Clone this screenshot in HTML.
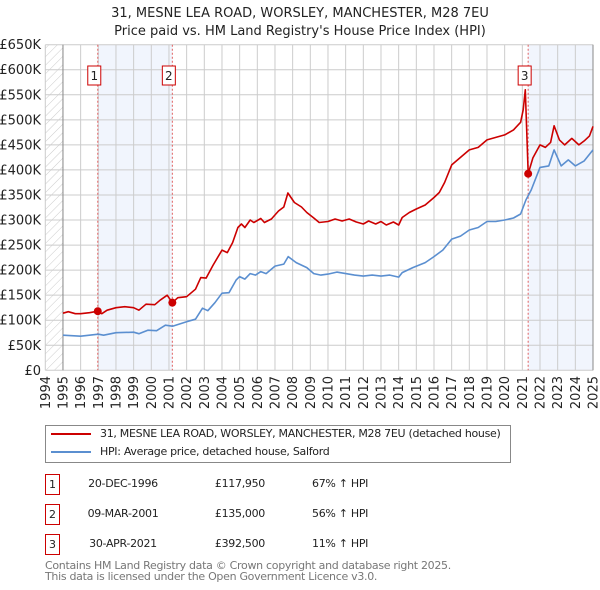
<!DOCTYPE html>
<html><head><meta charset="utf-8"><style>
body{margin:0;background:#fff;font-family:"DejaVu Sans","Liberation Sans",sans-serif;}
#wrap{position:relative;width:600px;height:590px;overflow:hidden;}
.t{position:absolute;font-size:11px;color:#222;white-space:nowrap;letter-spacing:-0.3px;}
</style></head><body><div id="wrap">
<svg id="chart" width="600" height="590" style="position:absolute;left:0;top:0" font-family="DejaVu Sans, Liberation Sans, sans-serif">
<defs><pattern id="hatch" width="6" height="6" patternUnits="userSpaceOnUse" patternTransform="rotate(45)"><line x1="0" y1="0" x2="0" y2="6" stroke="#ccc" stroke-width="1"/></pattern></defs>
<text x="300" y="17" text-anchor="middle" font-size="13" fill="#222">31, MESNE LEA ROAD, WORSLEY, MANCHESTER, M28 7EU</text>
<text x="300" y="35" text-anchor="middle" font-size="13" fill="#222">Price paid vs. HM Land Registry's House Price Index (HPI)</text>
<g id="plot"></g>
</svg>
<div style="position:absolute;left:45px;top:425px;width:464px;height:36px;border:1px solid #888;"></div>
<div style="position:absolute;left:51px;top:433px;width:40px;height:2px;background:#cc0000"></div>
<div class="t" style="left:100px;top:427px">31, MESNE LEA ROAD, WORSLEY, MANCHESTER, M28 7EU (detached house)</div>
<div style="position:absolute;left:51px;top:451px;width:40px;height:2px;background:#5b8fd0"></div>
<div class="t" style="left:100px;top:445px">HPI: Average price, detached house, Salford</div>
<div id="table"></div>
<div class="t" style="left:45px;top:560px;color:#777;line-height:11px">Contains HM Land Registry data © Crown copyright and database right 2025.<br>This data is licensed under the Open Government Licence v3.0.</div>
</div>
<script>
const yearTicks=[1994,1995,1996,1997,1998,1999,2000,2001,2002,2003,2004,2005,2006,2007,2008,2009,2010,2011,2012,2013,2014,2015,2016,2017,2018,2019,2020,2021,2022,2023,2024,2025];
const priceTicks=[0,50,100,150,200,250,300,350,400,450,500,550,600,650];
const priceLabels=["£0","£50K","£100K","£150K","£200K","£250K","£300K","£350K","£400K","£450K","£500K","£550K","£600K","£650K"];
const redT=[1995,1995.3,1995.7,1996,1996.5,1996.97,1997.2,1997.5,1998,1998.5,1999,1999.3,1999.7,2000.2,2000.5,2000.9,2001.19,2001.5,2002,2002.5,2002.8,2003.1,2003.5,2004,2004.3,2004.6,2004.9,2005.1,2005.3,2005.6,2005.8,2006.2,2006.4,2006.8,2007.2,2007.5,2007.73,2008.1,2008.5,2008.8,2009.2,2009.5,2010,2010.4,2010.8,2011.2,2011.6,2012,2012.3,2012.7,2013,2013.3,2013.7,2014,2014.2,2014.6,2015,2015.5,2016,2016.3,2016.6,2017,2017.5,2018,2018.5,2019,2019.5,2020,2020.5,2020.9,2021.05,2021.17,2021.33,2021.6,2022,2022.3,2022.6,2022.8,2023.1,2023.4,2023.8,2024.2,2024.5,2024.8,2025];
const redV=[114,117,113,113,115,118,113,120,125,127,125,120,132,131,140,150,135,145,147,162,185,184,210,240,235,255,285,292,285,300,295,303,295,302,318,326,354,335,326,315,304,295,297,302,298,302,296,292,298,292,297,290,296,290,305,315,322,330,345,355,375,410,425,440,445,460,465,470,480,495,520,560,392.5,424,450,445,455,488,460,450,463,450,458,468,487];
const hpiT=[1995,1996,1997,1997.3,1998,1999,1999.3,1999.8,2000.3,2000.8,2001.2,2002,2002.5,2002.9,2003.2,2003.6,2004,2004.4,2004.8,2005,2005.3,2005.6,2005.9,2006.2,2006.5,2007,2007.5,2007.75,2008.2,2008.8,2009.2,2009.6,2010,2010.5,2011,2011.5,2012,2012.5,2013,2013.5,2014,2014.2,2014.8,2015.5,2016,2016.5,2017,2017.5,2018,2018.5,2019,2019.5,2020,2020.5,2020.9,2021.2,2021.5,2022,2022.5,2022.8,2023.2,2023.6,2024,2024.5,2025];
const hpiV=[70,68,72,70,75,76,73,80,79,90,88,97,102,124,119,135,154,155,180,187,182,193,190,197,193,208,212,227,215,205,193,190,192,196,193,190,188,190,188,190,186,195,205,215,227,240,262,268,280,285,297,297,300,304,312,340,360,405,408,440,408,420,408,418,440];
const saleT=[1996.97,2001.19,2021.33];
const saleV=[117.95,135,392.5];
const saleLabel=["1","2","3"];
const saleDate=["20-DEC-1996","09-MAR-2001","30-APR-2021"];
const salePrice=["£117,950","£135,000","£392,500"];
const saleHpi=["67% ↑ HPI","56% ↑ HPI","11% ↑ HPI"];

const L=45.3,R=593,T=44.7,B=370.3;
const X0=1994,X1=2025;
const x=v=>L+(v-X0)/(X1-X0)*(R-L);
const y=v=>B-v/650*(B-T);
const NS="http://www.w3.org/2000/svg";
const g=document.getElementById('plot');
function mk(tag,attrs,parent){const e=document.createElementNS(NS,tag);for(const k in attrs)e.setAttribute(k,attrs[k]);(parent||g).appendChild(e);return e;}
let e=mk('rect',{x:L,y:T,width:x(1995)-L,height:B-T,fill:'url(#hatch)'});


e=mk('rect',{x:x(saleT[0]),y:T,width:x(saleT[1])-x(saleT[0]),height:B-T,fill:'#eef3fd',opacity:0.8});


e=mk('rect',{x:x(saleT[2]),y:T,width:R-x(saleT[2]),height:B-T,fill:'#eef3fd',opacity:0.8});


yearTicks.forEach((yr,i)=>{
  const l=mk('line',{x1:x(yr),x2:x(yr),y1:T,y2:B,stroke:'#ccc','stroke-width':1});
  
  
  const tx=x(yr)+4.5;
  const t=mk('text',{x:0,y:0,transform:`translate(${tx},376) rotate(-90)`,'text-anchor':'end','font-size':13,fill:'#222'});
  t.textContent=yr;
  
  
});
priceTicks.forEach((p,i)=>{
  const l=mk('line',{x1:L,x2:R,y1:y(p),y2:y(p),stroke:'#ccc','stroke-width':1});
  
  
  const t=mk('text',{x:41,y:y(p)+4.5,'text-anchor':'end','font-size':13,fill:'#222'});
  t.textContent=priceLabels[i];
  
  
});
e=mk('line',{x1:x(1995),x2:x(1995),y1:T,y2:B,stroke:'#888','stroke-width':1});


e=mk('line',{x1:R,x2:R,y1:T,y2:B,stroke:'#888','stroke-width':1});


saleT.forEach((s,i)=>{
  const l=mk('line',{x1:x(s),x2:x(s),y1:T,y2:B,stroke:'#e06060','stroke-width':1,'stroke-dasharray':'2,2'});
  
  
});
const pts=(ts,vs)=>ts.map((t,i)=>x(t).toFixed(1)+','+y(vs[i]).toFixed(1)).join(' ');
e=mk('polyline',{points:pts(hpiT,hpiV),fill:'none',stroke:'#5b8fd0','stroke-width':1.6,'stroke-linejoin':'round'});


e=mk('polyline',{points:pts(redT,redV),fill:'none',stroke:'#cc0000','stroke-width':1.6,'stroke-linejoin':'round'});


saleT.forEach((s,i)=>{
  const c=mk('circle',{cx:x(s),cy:y(saleV[i]),r:4,fill:'#cc0000'});
  
  
  const bx=x(s)-10,by=66;
  const r=mk('rect',{x:bx,y:by,width:13,height:19,fill:'#fff',stroke:'#cc0000','stroke-width':1});
  
  
  const t=mk('text',{x:bx+6.5,y:by+14,'text-anchor':'middle','font-size':12,fill:'#222'});
  t.textContent=saleLabel[i];
  
  
});
const tb=document.getElementById('table');
const rowsY=[477,507,537];
saleLabel.forEach((lab,i)=>{
  const ry=rowsY[i];
  const add=(html,style,name)=>{const d=document.createElement('div');d.className='t';d.style.cssText=style;d.textContent=html;
    
    
    tb.appendChild(d);return d;};
  add(lab,`left:45px;top:${ry-3}px;width:13px;height:19px;border:1px solid #cc0000;text-align:center;line-height:19px;letter-spacing:0`,'sale-number-box');
  add(saleDate[i],`left:63px;top:${ry}px;width:120px;text-align:center`,'sale-date');
  add(salePrice[i],`left:184px;top:${ry}px;width:81px;text-align:right`,'sale-price');
  add(saleHpi[i],`left:312px;top:${ry}px`,'sale-hpi-change');
});
</script>
</body></html>
